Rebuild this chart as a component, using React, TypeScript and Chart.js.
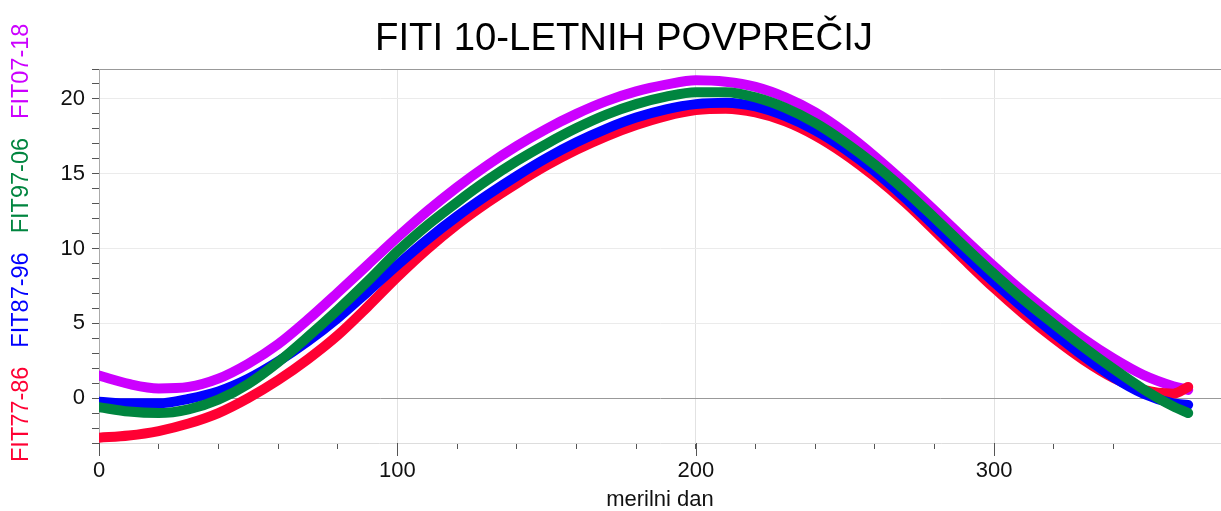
import React, { useEffect, useRef } from 'react';
import { Chart, registerables } from 'chart.js';

Chart.register(...registerables);

const chartTitle = 'FITI 10-LETNIH POVPREČIJ';
const xAxisTitle = 'merilni dan';

const days = [0, 10, 20, 30, 40, 50, 60, 70, 80, 90, 100, 110, 120, 130, 140, 150, 160, 170, 180, 190, 200, 210, 220, 230, 240, 250, 260, 270, 280, 290, 300, 310, 320, 330, 340, 350, 360, 365];

const fit77_86 = [-2.65, -2.5, -2.2, -1.7, -1.0, 0.0, 1.2, 2.6, 4.2, 6.1, 8.1, 9.95, 11.6, 13.05, 14.35, 15.55, 16.6, 17.5, 18.25, 18.85, 19.25, 19.35, 19.1, 18.5, 17.55, 16.3, 14.8, 13.1, 11.2, 9.25, 7.35, 5.6, 4.0, 2.55, 1.35, 0.55, 0.3, 0.75];
const fit87_96 = [-0.25, -0.35, -0.35, -0.05, 0.45, 1.3, 2.45, 3.8, 5.35, 7.1, 8.9, 10.6, 12.15, 13.55, 14.85, 16.05, 17.1, 18.0, 18.75, 19.3, 19.65, 19.75, 19.5, 18.85, 17.9, 16.65, 15.15, 13.4, 11.5, 9.6, 7.75, 6.0, 4.35, 2.8, 1.4, 0.3, -0.35, -0.45];
const fit97_06 = [-0.6, -0.9, -1.0, -0.75, -0.1, 0.95, 2.4, 4.1, 5.9, 7.8, 9.8, 11.55, 13.1, 14.55, 15.85, 17.0, 18.05, 18.95, 19.65, 20.15, 20.45, 20.45, 20.1, 19.4, 18.4, 17.1, 15.6, 13.9, 12.05, 10.15, 8.3, 6.55, 4.95, 3.4, 1.95, 0.6, -0.55, -1.0];
const fit07_18 = [1.5, 0.95, 0.65, 0.75, 1.3, 2.3, 3.6, 5.25, 7.05, 8.9, 10.75, 12.5, 14.1, 15.55, 16.85, 18.0, 19.0, 19.85, 20.5, 20.95, 21.25, 21.15, 20.8, 20.1, 19.1, 17.75, 16.15, 14.4, 12.55, 10.65, 8.8, 7.05, 5.45, 3.95, 2.65, 1.55, 0.8, 0.55];

const seriesNames = ['FIT77-86', 'FIT87-96', 'FIT97-06', 'FIT07-18'];
const seriesValues = [fit77_86, fit87_96, fit97_06, fit07_18];
const seriesColors = ['#ff0033', '#0000ff', '#00853f', '#cc00ff'];
const seriesOrder = [2, 1, 0, 3];

const xLabelTicks = [0, 100, 200, 300];
const yLabelTicks = [0, 5, 10, 15, 20];

const FONT = '"Liberation Sans", Arial, sans-serif';

const overlayPlugin = {
  id: 'overlay',
  afterDraw(chart: any) {
    const ctx = chart.ctx;
    const xs = chart.scales.x;
    const area = chart.chartArea;
    ctx.save();
    ctx.strokeStyle = '#555';
    ctx.lineWidth = 1;
    xLabelTicks.forEach((v) => {
      const px = Math.round(xs.getPixelForValue(v)) + 0.5;
      ctx.beginPath();
      ctx.moveTo(px, area.bottom);
      ctx.lineTo(px, area.bottom + 13);
      ctx.stroke();
    });
    ctx.font = `38.3px ${FONT}`;
    ctx.fillStyle = '#000';
    ctx.textAlign = 'center';
    ctx.textBaseline = 'middle';
    ctx.fillText(chartTitle, 624, 39);
    ctx.translate(28, 462);
    ctx.rotate(-Math.PI / 2);
    ctx.font = `23.5px ${FONT}`;
    ctx.textAlign = 'left';
    ctx.textBaseline = 'alphabetic';
    let off = 0;
    seriesNames.forEach((n, i) => {
      ctx.fillStyle = seriesColors[i];
      ctx.fillText(n, off, 0);
      off += ctx.measureText(n).width + 19;
    });
    ctx.restore();
  },
};

export default function App() {
  const ref = useRef<HTMLCanvasElement | null>(null);
  useEffect(() => {
    document.body.style.margin = '0';
    const canvas = ref.current!;
    const chart = new Chart(canvas, {
      type: 'scatter',
      data: {
        datasets: seriesNames.map((name, i) => ({
          label: name,
          data: days.map((d, j) => ({ x: d, y: seriesValues[i][j] })),
          showLine: true,
          borderColor: seriesColors[i],
          backgroundColor: seriesColors[i],
          borderWidth: 10,
          borderCapStyle: 'round',
          borderJoinStyle: 'round',
          pointRadius: 0,
          cubicInterpolationMode: 'monotone',
          order: seriesOrder[i],
        })),
      },
      options: {
        animation: false,
        responsive: false,
        devicePixelRatio: 1,
        layout: { padding: { top: 69, left: 0, right: 0, bottom: 0 } },
        plugins: {
          legend: { display: false },
          tooltip: { enabled: false },
          title: { display: false },
        },
        scales: {
          x: {
            type: 'linear',
            min: 0,
            max: 376,
            afterFit: (s: any) => {
              s.height = 68;
              s.paddingLeft = 0;
              s.paddingRight = 0;
            },
            border: { color: '#dddddd', width: 1 },
            grid: {
              color: (c: any) => {
                const v = c.tick && c.tick.value;
                return v !== 0 && xLabelTicks.includes(v) ? '#e2e2e2' : 'rgba(0,0,0,0)';
              },
              tickColor: '#555',
              tickLength: 6,
            },
            ticks: {
              stepSize: 20,
              autoSkip: false,
              maxRotation: 0,
              padding: 9,
              color: '#111',
              font: { family: FONT, size: 22 },
              callback: (v: any) => (xLabelTicks.includes(v) ? String(v) : ''),
            },
            title: {
              display: true,
              text: xAxisTitle,
              color: '#111',
              font: { family: FONT, size: 22, lineHeight: 1 },
              padding: { top: 0, bottom: 0 },
            },
          },
          y: {
            type: 'linear',
            min: -3,
            max: 22,
            afterFit: (s: any) => {
              s.width = 99;
              s.paddingTop = 0;
              s.paddingBottom = 0;
            },
            border: { color: '#aaaaaa', width: 1 },
            grid: {
              color: (c: any) => {
                const v = c.tick && c.tick.value;
                if (v === 0 || v === 22) return '#999999';
                if (yLabelTicks.includes(v)) return '#ebebeb';
                return 'rgba(0,0,0,0)';
              },
              tickColor: '#555',
              tickLength: 7,
            },
            ticks: {
              stepSize: 1,
              autoSkip: false,
              padding: 7,
              color: '#111',
              font: { family: FONT, size: 22 },
              callback: (v: any) => (yLabelTicks.includes(v) ? String(v) : ''),
            },
          },
        },
      },
      plugins: [overlayPlugin],
    } as any);
    return () => chart.destroy();
  }, []);
  return <canvas ref={ref} width={1221} height={511} style={{ display: 'block' }} />;
}
